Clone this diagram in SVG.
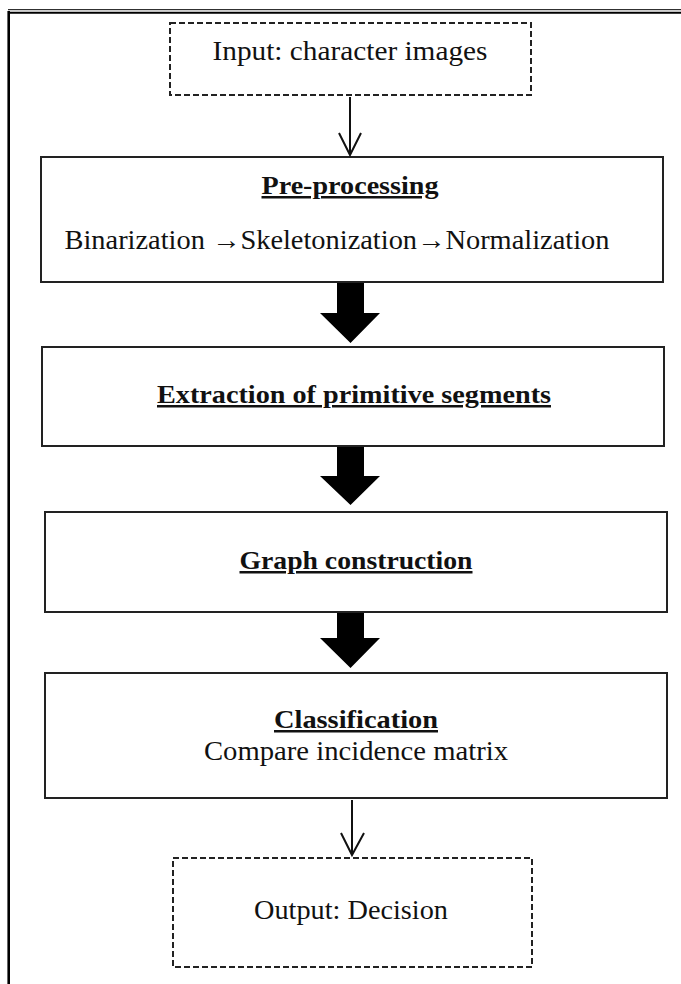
<svg xmlns="http://www.w3.org/2000/svg" width="681" height="984" viewBox="0 0 681 984">
<style>
.box{fill:#fff;stroke:#222;stroke-width:2}
.dash{fill:#fff;stroke:#222;stroke-width:2;stroke-dasharray:6 3}
.t{font-family:"Liberation Serif","Times New Roman",serif;font-size:27px;fill:#111;text-anchor:middle}
.b{font-weight:bold;text-decoration:underline;font-size:25px}
.thin{stroke:#111;stroke-width:2;fill:none}
.thick{fill:#000}
</style>
<rect width="681" height="984" fill="#fff"/>
<g id="frame">
<line x1="8.7" y1="11" x2="8.7" y2="984" stroke="#000" stroke-width="2.6"/>
<line x1="8" y1="9.7" x2="681" y2="9.7" stroke="#000" stroke-width="1"/>
<line x1="8" y1="12.7" x2="681" y2="12.7" stroke="#000" stroke-width="2"/>
</g>
<g id="input">
<rect class="dash" x="170" y="23" width="361" height="72"/>
<text class="t" x="350" y="60" textLength="275" lengthAdjust="spacingAndGlyphs">Input: character images</text>
</g>
<g id="preprocessing">
<rect class="box" x="41" y="157" width="622" height="125"/>
<text class="t b" x="350" y="194" font-size="26" textLength="177" lengthAdjust="spacingAndGlyphs">Pre-processing</text>
<text class="t" x="337" y="249" font-size="28" textLength="545" lengthAdjust="spacingAndGlyphs">Binarization →Skeletonization→Normalization</text>
</g>
<g id="extraction">
<rect class="box" x="42" y="347" width="622" height="99"/>
<text class="t b" x="354" y="403" textLength="394" lengthAdjust="spacingAndGlyphs">Extraction of primitive segments</text>
</g>
<g id="graph">
<rect class="box" x="45" y="512" width="622" height="100"/>
<text class="t b" x="356" y="569" textLength="233" lengthAdjust="spacingAndGlyphs">Graph construction</text>
</g>
<g id="classification">
<rect class="box" x="45" y="673" width="622" height="125"/>
<text class="t b" x="356" y="728" textLength="164" lengthAdjust="spacingAndGlyphs">Classification</text>
<text class="t" x="356" y="760" textLength="304" lengthAdjust="spacingAndGlyphs">Compare incidence matrix</text>
</g>
<g id="output">
<rect class="dash" x="173" y="858" width="359" height="109"/>
<text class="t" x="351" y="919" textLength="194" lengthAdjust="spacingAndGlyphs">Output: Decision</text>
</g>
<g id="connectors">
<line class="thin" x1="350" y1="97" x2="350" y2="155"/>
<polyline class="thin" points="339,133 350,155 361,133"/>
<polygon class="thick" points="337,283 364,283 364,313 380,313 350.5,343 320,313 337,313"/>
<polygon class="thick" points="337,447 364,447 364,476 380,476 350.5,505 320,476 337,476"/>
<polygon class="thick" points="337,613 364,613 364,638 380,638 350.5,668 320,638 337,638"/>
<line class="thin" x1="352" y1="800" x2="352" y2="855"/>
<polyline class="thin" points="341,833 352,855 364,833"/>
</g>
</svg>
